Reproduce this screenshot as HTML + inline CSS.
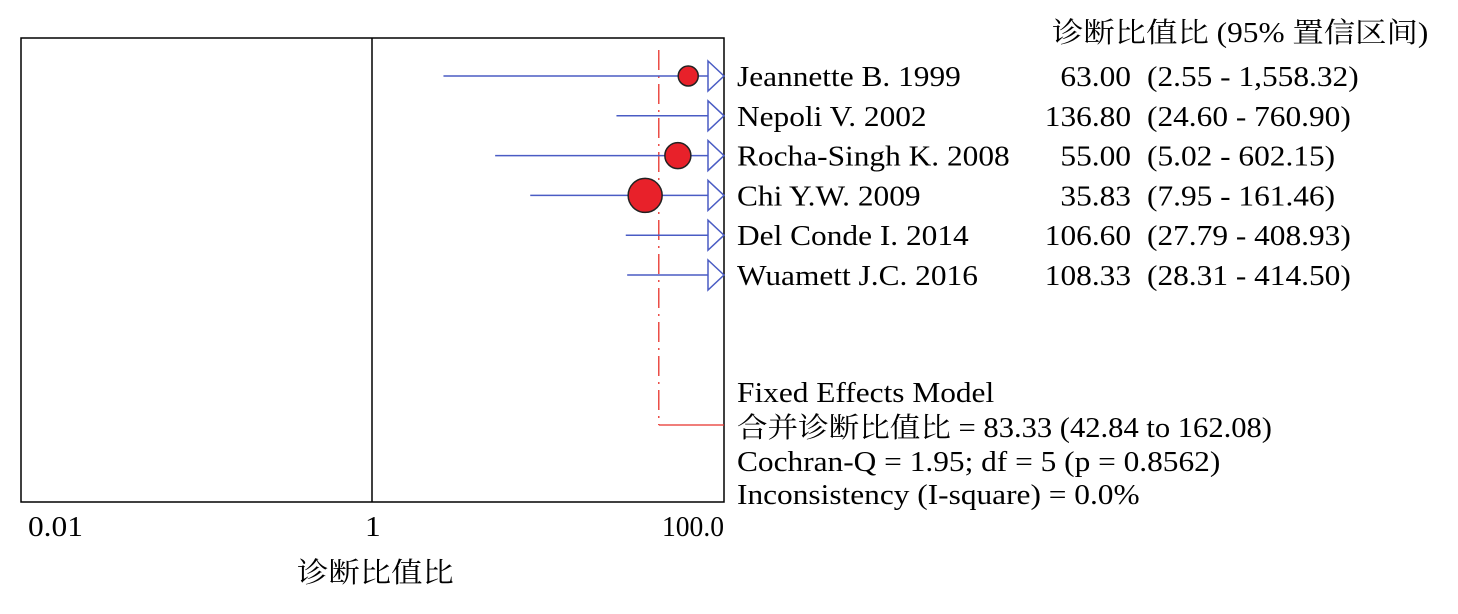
<!DOCTYPE html>
<html><head><meta charset="utf-8"><style>
body{margin:0;background:#fff;}
svg text{font-family:"Liberation Serif","Noto Serif CJK SC",serif;font-size:28px;fill:#000;}
</style></head><body>
<svg id="chart" width="1458" height="609" viewBox="0 0 1458 609">
<rect x="21" y="38" width="703" height="464" fill="none" stroke="#000" stroke-width="1.5"/>
<line x1="372" y1="38" x2="372" y2="502" stroke="#000" stroke-width="1.5"/>
<g id="marks"></g>
<text x="1052" y="42">诊断比值比 (95% 置信区间)</text>
<text x="28" y="536">0.01</text>
<text x="365" y="536">1</text>
<text x="662" y="536" data-w="62">100.0</text>
<text x="297" y="582">诊断比值比</text>
<text x="737" y="402">Fixed Effects Model</text>
<text x="737" y="437" data-w="535">合并诊断比值比 = 83.33 (42.84 to 162.08)</text>
<text x="737" y="471">Cochran-Q = 1.95; df = 5 (p = 0.8562)</text>
<text x="737" y="504">Inconsistency (I-square) = 0.0%</text>
</svg>
<script>
const studies=["Jeannette B. 1999","Nepoli V. 2002","Rocha-Singh K. 2008","Chi Y.W. 2009","Del Conde I. 2014","Wuamett J.C. 2016"];
const estimates=[63.00,136.80,55.00,35.83,106.60,108.33];
const lowerCI=[2.55,24.60,5.02,7.95,27.79,28.31];
const upperCI=[1558.32,760.90,602.15,161.46,408.93,414.50];
const weights=[10,0,13,17,0,0];
const ciLabels=["(2.55 - 1,558.32)","(24.60 - 760.90)","(5.02 - 602.15)","(7.95 - 161.46)","(27.79 - 408.93)","(28.31 - 414.50)"];
const pooledLine=42.84;
const NS="http://www.w3.org/2000/svg";
const g=document.getElementById('marks');
const svg=document.getElementById('chart');
const X0=21,X1=724;
function xs(v){let x=372+Math.log10(v)*175.75;return Math.max(X0,Math.min(X1,x));}
function ys(i){return 76+i*39.8;}
function mk(tag,a){const e=document.createElementNS(NS,tag);for(const k in a)e.setAttribute(k,a[k]);return e;}
const px=xs(pooledLine);
let dl=mk('line',{x1:px,y1:50,x2:px,y2:425,stroke:'#e8312a','stroke-width':1.3,'stroke-dasharray':'20,6,2,6'});


g.appendChild(dl);
let hl=mk('line',{x1:px,y1:425,x2:724,y2:425,stroke:'#e8312a','stroke-width':1.3});


g.appendChild(hl);
studies.forEach((s,i)=>{
  const y=ys(i);
  const l=xs(lowerCI[i]),u=xs(upperCI[i]);
  let ln=mk('line',{x1:l,y1:y,x2:u,y2:y,stroke:'#4a5cc4','stroke-width':1.5});
  
  
  g.appendChild(ln);
  const e=estimates[i];
  if(e<=100 && weights[i]>0){
    let c=mk('circle',{cx:xs(e),cy:y,r:weights[i],fill:'#e8212a',stroke:'#222','stroke-width':1.5});
    
    
    g.appendChild(c);
  }
  if(upperCI[i]>100){
    let a=mk('polygon',{points:`708,${y-15} 724,${y} 708,${y+15}`,fill:'#fff',stroke:'#4a5cc4','stroke-width':1.5});
    
    
    g.appendChild(a);
  }
  let t=mk('text',{x:737,y:y+10});t.textContent=s;
  
  
  svg.appendChild(t);
  let v=mk('text',{x:1131,y:y+10,'text-anchor':'end'});v.textContent=estimates[i].toFixed(2);
  
  
  svg.appendChild(v);
  let c2=mk('text',{x:1147,y:y+10});c2.textContent=ciLabels[i];
  
  
  svg.appendChild(c2);
});
document.querySelectorAll('svg text').forEach(t=>{
  const w=t.getComputedTextLength();
  const fixed=t.getAttribute('data-w');
  if(w>0){t.setAttribute('textLength',fixed?fixed:(w*1.12).toFixed(1));t.setAttribute('lengthAdjust','spacingAndGlyphs');}
});
</script>
</body></html>
